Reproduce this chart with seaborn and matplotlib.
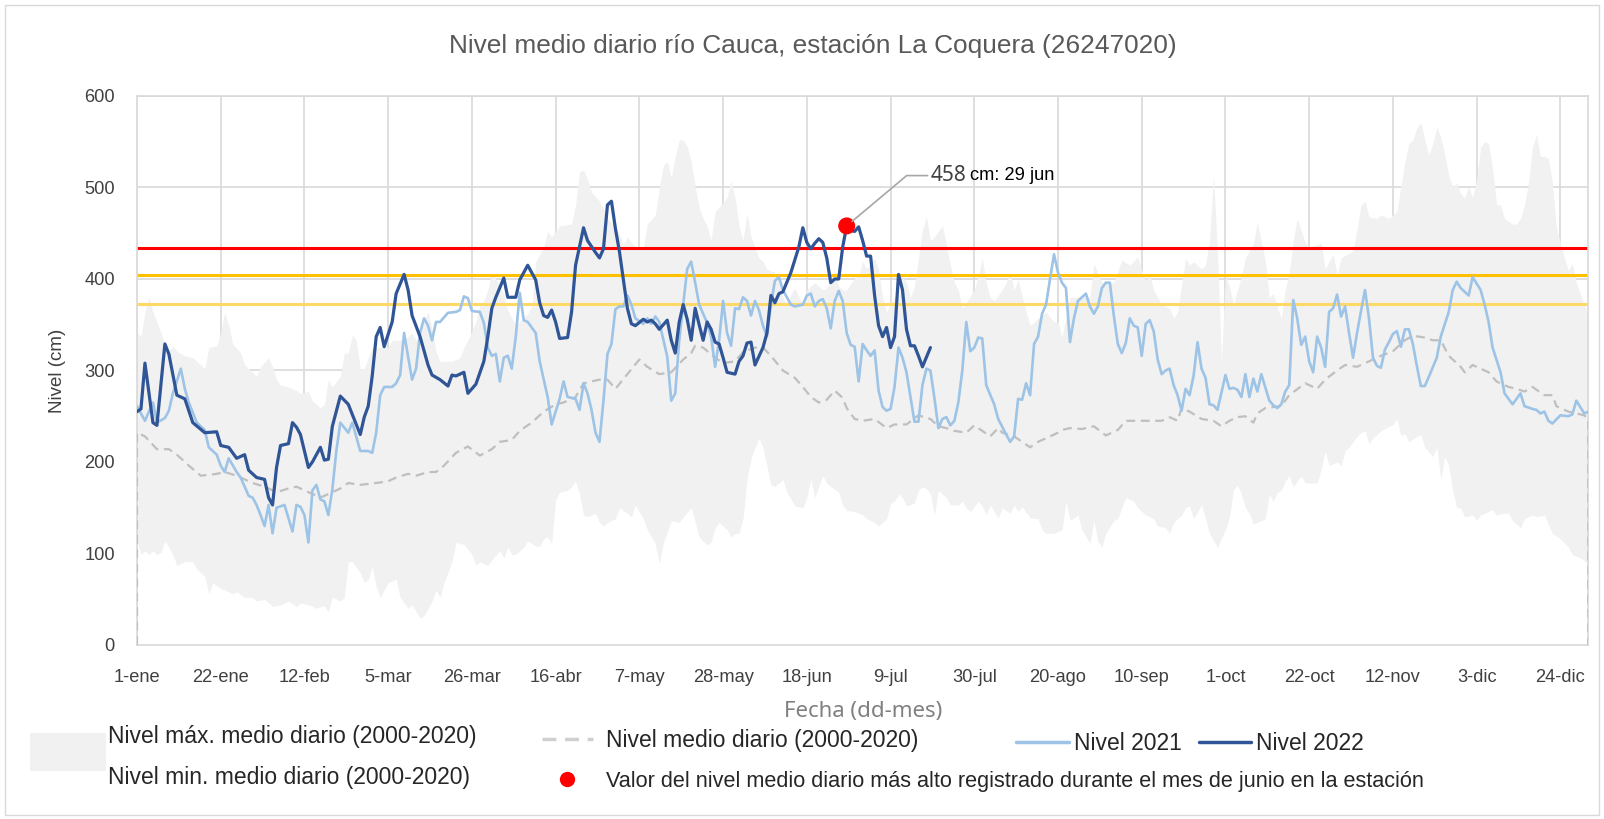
import matplotlib
matplotlib.use("Agg")
import pandas as pd
import matplotlib.pyplot as plt
import seaborn as sns
from matplotlib import font_manager
from matplotlib.legend_handler import HandlerPatch
from matplotlib.lines import Line2D
from matplotlib.patches import Patch, Rectangle

# Datos: (dia del año, nivel en cm)
nivel_max = [(0, 341), (1, 337), (2, 364), (3, 380), (4, 364), (5, 353), (7, 329), (8, 321), (9, 327), (10, 321),
             (12, 316), (14, 314), (16, 306), (17, 302), (18, 325), (20, 327), (21, 341), (22, 364), (23, 349), (24, 329),
             (26, 319), (27, 306), (29, 298), (30, 294), (31, 304), (33, 314), (34, 304), (35, 290), (36, 284), (38, 282),
             (40, 278), (41, 275), (43, 277), (44, 267), (45, 263), (46, 259), (47, 263), (48, 290), (49, 282), (51, 294),
             (52, 319), (53, 319), (54, 339), (55, 333), (56, 302), (57, 302), (58, 314), (59, 325), (62, 325), (63, 325),
             (64, 333), (67, 333), (69, 341), (70, 333), (72, 353), (73, 364), (74, 345), (75, 321), (76, 310), (79, 310),
             (81, 314), (82, 325), (83, 333), (85, 353), (86, 372), (87, 376), (88, 388), (89, 407), (90, 400), (92, 384),
             (93, 366), (95, 349), (97, 358), (98, 362), (99, 370), (100, 419), (102, 435), (103, 452), (104, 446), (105, 452),
             (106, 458), (109, 460), (110, 481), (111, 517), (112, 519), (113, 509), (114, 495), (116, 485), (117, 477), (118, 466),
             (120, 458), (122, 438), (123, 446), (125, 435), (127, 435), (128, 460), (130, 470), (131, 499), (132, 524), (133, 528),
             (134, 511), (135, 534), (136, 552), (137, 552), (138, 545), (139, 528), (140, 501), (141, 478), (142, 466), (143, 458),
             (144, 442), (145, 474), (146, 478), (148, 489), (149, 507), (150, 489), (151, 458), (152, 442), (153, 472), (154, 446),
             (156, 423), (157, 419), (158, 411), (160, 407), (161, 396), (162, 380), (163, 372), (164, 384), (165, 390), (167, 372),
             (168, 388), (170, 396), (172, 388), (173, 390), (175, 409), (176, 392), (177, 388), (178, 388), (180, 401), (181, 403),
             (182, 419), (183, 411), (185, 423), (186, 411), (187, 380), (188, 364), (190, 380), (191, 376), (192, 403), (193, 396),
             (194, 380), (195, 392), (196, 423), (197, 454), (198, 468), (199, 442), (200, 446), (202, 458), (203, 438), (204, 415),
             (205, 396), (206, 388), (207, 368), (208, 374), (210, 388), (211, 403), (212, 423), (213, 396), (214, 380), (215, 376),
             (217, 388), (218, 396), (219, 407), (220, 388), (221, 399), (223, 364), (224, 349), (225, 353), (226, 357), (228, 364),
             (230, 353), (231, 353), (232, 337), (234, 380), (236, 380), (239, 380), (240, 417), (242, 396), (245, 396), (247, 421),
             (249, 415), (251, 424), (252, 409), (253, 398), (254, 405), (255, 388), (257, 372), (259, 368), (260, 357), (261, 364),
             (263, 423), (264, 415), (265, 419), (267, 411), (268, 415), (269, 442), (270, 513), (271, 430), (272, 310), (273, 403),
             (274, 392), (275, 372), (277, 403), (278, 423), (280, 439), (281, 462), (283, 420), (284, 380), (285, 384), (287, 357),
             (288, 388), (289, 407), (290, 442), (291, 466), (293, 440), (294, 435), (297, 439), (298, 411), (300, 427), (301, 405),
             (302, 423), (304, 428), (305, 431), (306, 454), (307, 481), (308, 485), (309, 468), (311, 466), (312, 470), (314, 466),
             (316, 474), (318, 528), (319, 548), (320, 552), (321, 565), (322, 571), (323, 552), (324, 535), (325, 548), (326, 566),
             (327, 555), (328, 536), (329, 513), (330, 501), (331, 505), (332, 493), (333, 489), (334, 501), (335, 489), (336, 509),
             (337, 544), (338, 550), (339, 548), (340, 521), (341, 481), (342, 481), (343, 466), (345, 460), (346, 460), (347, 466),
             (348, 481), (349, 505), (350, 544), (351, 558), (352, 534), (353, 534), (354, 532), (355, 505), (356, 456), (358, 423),
             (359, 409), (360, 417), (361, 396), (362, 384), (363, 372), (364, 360)]

nivel_min = [(0, 114), (1, 99), (2, 103), (3, 99), (4, 103), (5, 99), (6, 101), (7, 114), (9, 99), (10, 87),
             (12, 91), (14, 91), (15, 83), (17, 75), (18, 56), (19, 68), (21, 62), (24, 56), (25, 58), (27, 52),
             (29, 52), (30, 48), (32, 50), (34, 42), (36, 44), (38, 48), (40, 42), (41, 46), (43, 44), (45, 40),
             (47, 43), (48, 36), (49, 52), (51, 48), (52, 52), (53, 91), (54, 91), (56, 79), (57, 68), (58, 72),
             (59, 85), (60, 64), (61, 52), (63, 68), (65, 72), (66, 52), (68, 40), (69, 44), (71, 29), (72, 32),
             (74, 48), (75, 60), (76, 52), (77, 68), (79, 91), (80, 112), (82, 110), (84, 99), (85, 87), (86, 91),
             (88, 87), (89, 93), (91, 103), (92, 95), (93, 107), (94, 99), (95, 99), (97, 107), (98, 114), (100, 108),
             (101, 108), (102, 116), (103, 118), (104, 111), (105, 159), (106, 167), (108, 169), (109, 173), (110, 179), (111, 165),
             (112, 142), (113, 140), (115, 144), (116, 134), (117, 130), (118, 134), (120, 138), (121, 150), (123, 144), (124, 140),
             (125, 153), (127, 138), (128, 126), (130, 111), (131, 89), (132, 111), (134, 136), (136, 134), (137, 140), (139, 150),
             (140, 134), (141, 118), (143, 109), (144, 113), (145, 128), (146, 134), (148, 126), (149, 118), (150, 122), (151, 122),
             (152, 138), (153, 181), (154, 204), (156, 226), (157, 216), (158, 196), (159, 175), (160, 173), (162, 181), (163, 167),
             (165, 152), (167, 150), (168, 161), (169, 181), (170, 161), (172, 185), (173, 177), (174, 173), (176, 167), (177, 153),
             (178, 147), (180, 146), (182, 142), (183, 138), (185, 134), (186, 130), (188, 138), (189, 155), (190, 157), (191, 165),
             (192, 161), (193, 152), (195, 155), (196, 169), (197, 173), (198, 171), (199, 165), (200, 142), (201, 169), (203, 161),
             (204, 153), (206, 153), (207, 157), (208, 150), (209, 146), (211, 157), (212, 152), (213, 142), (214, 153), (216, 139),
             (217, 150), (219, 144), (220, 153), (221, 146), (222, 151), (224, 139), (226, 138), (227, 126), (228, 122), (230, 122),
             (232, 126), (233, 157), (234, 136), (236, 142), (237, 126), (239, 111), (240, 136), (241, 113), (242, 107), (243, 122),
             (245, 136), (246, 138), (247, 150), (248, 161), (250, 157), (251, 150), (253, 142), (255, 138), (256, 130), (258, 128),
             (259, 122), (260, 134), (262, 142), (263, 150), (264, 152), (265, 138), (267, 153), (268, 138), (269, 122), (270, 114),
             (271, 107), (273, 126), (274, 140), (275, 169), (276, 175), (277, 165), (278, 150), (279, 144), (280, 132), (281, 134),
             (283, 138), (284, 165), (285, 157), (286, 167), (287, 169), (288, 179), (289, 185), (290, 173), (292, 185), (293, 177),
             (296, 177), (297, 192), (298, 212), (299, 196), (301, 200), (302, 196), (303, 212), (304, 216), (306, 228), (307, 232),
             (308, 234), (309, 220), (310, 226), (312, 234), (314, 239), (315, 241), (316, 247), (317, 229), (318, 231), (319, 222),
             (321, 228), (322, 230), (323, 216), (325, 206), (326, 216), (327, 181), (328, 206), (329, 196), (330, 169), (331, 150),
             (332, 150), (333, 140), (335, 142), (336, 136), (337, 142), (340, 148), (341, 142), (343, 144), (344, 144), (345, 136),
             (347, 128), (348, 138), (350, 142), (351, 140), (353, 142), (354, 132), (355, 122), (357, 116), (359, 107), (360, 99),
             (362, 95), (364, 89)]

nivel_medio = [(0, 0), (0, 232), (2, 228), (5, 214), (8, 214), (10, 208), (13, 196), (16, 185), (20, 187), (22, 189),
               (25, 185), (29, 177), (32, 173), (35, 167), (38, 171), (40, 173), (43, 167), (46, 161), (48, 165), (51, 171),
               (53, 177), (56, 175), (60, 177), (63, 179), (65, 183), (68, 187), (70, 185), (73, 189), (75, 189), (77, 196),
               (80, 210), (83, 217), (86, 207), (89, 214), (91, 222), (94, 224), (96, 234), (99, 243), (102, 255), (105, 263),
               (107, 265), (110, 271), (112, 286), (116, 290), (118, 290), (120, 280), (123, 296), (126, 312), (128, 304), (131, 296),
               (134, 298), (137, 312), (139, 319), (140, 327), (142, 325), (145, 314), (147, 308), (150, 310), (152, 320), (155, 325),
               (157, 325), (159, 316), (162, 300), (165, 292), (167, 282), (169, 271), (171, 265), (173, 268), (175, 278), (177, 270),
               (178, 259), (180, 247), (182, 245), (185, 247), (188, 237), (190, 241), (193, 241), (196, 251), (199, 247), (201, 239),
               (203, 237), (205, 234), (208, 232), (210, 240), (212, 234), (214, 228), (216, 237), (217, 232), (220, 228), (222, 222),
               (224, 216), (226, 222), (228, 226), (231, 232), (232, 235), (234, 237), (237, 236), (240, 239), (243, 229), (246, 235),
               (248, 245), (251, 245), (254, 245), (257, 245), (259, 249), (261, 245), (262, 259), (264, 255), (267, 247), (270, 245),
               (272, 239), (274, 245), (276, 249), (278, 250), (280, 243), (281, 253), (283, 259), (285, 260), (287, 261), (289, 273),
               (293, 286), (296, 280), (298, 290), (301, 300), (303, 306), (306, 304), (309, 310), (312, 316), (315, 321), (318, 333),
               (320, 338), (323, 336), (325, 333), (327, 333), (329, 316), (332, 304), (333, 298), (335, 306), (336, 304), (339, 298),
               (341, 288), (344, 282), (346, 280), (348, 277), (350, 282), (353, 273), (355, 273), (356, 261), (359, 255), (361, 253),
               (363, 251), (364, 247), (364, 0)]

nivel_2021 = [(0, 261), (1, 253), (2, 245), (4, 265), (5, 243), (7, 248), (8, 256), (9, 275), (11, 302), (12, 280),
              (13, 265), (15, 243), (17, 235), (18, 216), (20, 208), (21, 196), (22, 189), (23, 204), (25, 189), (26, 183),
              (28, 163), (29, 161), (30, 153), (31, 142), (32, 130), (33, 153), (34, 122), (35, 150), (37, 153), (39, 124),
              (40, 153), (41, 151), (42, 142), (43, 112), (44, 169), (45, 175), (46, 159), (47, 157), (48, 142), (49, 170),
              (50, 212), (51, 243), (53, 232), (54, 243), (56, 212), (58, 212), (59, 210), (60, 232), (61, 273), (62, 282),
              (64, 282), (65, 286), (66, 295), (67, 341), (68, 315), (69, 290), (70, 302), (71, 341), (72, 357), (73, 349),
              (74, 333), (75, 353), (76, 353), (78, 363), (80, 364), (81, 366), (82, 381), (83, 379), (84, 365), (86, 364),
              (87, 352), (88, 325), (89, 316), (90, 318), (91, 288), (92, 314), (93, 316), (94, 302), (95, 337), (96, 385),
              (97, 355), (98, 353), (99, 347), (100, 341), (101, 310), (103, 271), (104, 241), (106, 269), (107, 288), (108, 271),
              (110, 269), (111, 257), (112, 286), (113, 275), (114, 257), (115, 232), (116, 222), (117, 267), (118, 318), (119, 329),
              (120, 367), (121, 370), (122, 370), (123, 382), (124, 372), (125, 357), (127, 351), (128, 357), (129, 351), (130, 359),
              (131, 353), (133, 315), (134, 267), (135, 275), (136, 333), (138, 411), (139, 419), (140, 396), (141, 372), (142, 362),
              (143, 352), (144, 337), (145, 304), (146, 333), (147, 376), (148, 341), (149, 327), (150, 368), (151, 367), (152, 380),
              (153, 376), (154, 360), (155, 376), (156, 366), (157, 349), (158, 337), (159, 372), (160, 398), (161, 402), (162, 388),
              (163, 380), (164, 372), (165, 370), (167, 372), (168, 382), (169, 384), (170, 370), (171, 376), (172, 378), (173, 368),
              (174, 346), (175, 376), (176, 387), (177, 376), (178, 341), (179, 328), (180, 326), (181, 288), (182, 329), (183, 322),
              (184, 316), (185, 322), (186, 278), (187, 260), (188, 256), (189, 258), (190, 282), (191, 325), (192, 314), (193, 298),
              (194, 271), (195, 244), (196, 244), (197, 284), (198, 302), (199, 300), (200, 270), (201, 237), (202, 247), (203, 249),
              (204, 240), (205, 245), (206, 265), (207, 300), (208, 353), (209, 321), (210, 325), (211, 336), (212, 335), (213, 284),
              (215, 263), (216, 247), (218, 230), (219, 222), (220, 228), (221, 269), (222, 268), (223, 286), (224, 273), (225, 329),
              (226, 337), (227, 362), (228, 372), (229, 400), (230, 427), (231, 407), (232, 396), (233, 390), (234, 331), (235, 357),
              (236, 376), (238, 384), (239, 370), (240, 362), (241, 370), (242, 390), (243, 396), (244, 396), (245, 360), (246, 329),
              (247, 319), (248, 330), (249, 357), (250, 349), (251, 347), (252, 316), (253, 351), (254, 355), (255, 343), (256, 312),
              (257, 296), (258, 300), (259, 302), (260, 284), (261, 273), (262, 256), (263, 280), (264, 273), (265, 294), (266, 331),
              (267, 302), (268, 292), (269, 263), (270, 262), (271, 257), (272, 276), (273, 295), (274, 280), (275, 281), (276, 279),
              (277, 271), (278, 296), (279, 271), (280, 291), (281, 277), (282, 296), (284, 267), (285, 262), (286, 259), (287, 263),
              (288, 277), (289, 284), (290, 377), (291, 357), (292, 328), (293, 337), (294, 310), (295, 298), (296, 337), (297, 325),
              (298, 304), (299, 364), (300, 368), (301, 383), (302, 359), (303, 370), (304, 341), (305, 314), (306, 341), (307, 365),
              (308, 388), (309, 357), (310, 314), (311, 305), (312, 303), (313, 323), (314, 331), (315, 340), (316, 343), (317, 326),
              (318, 345), (319, 345), (320, 329), (321, 305), (322, 283), (323, 283), (324, 293), (326, 314), (327, 337), (329, 364),
              (330, 388), (331, 397), (332, 390), (334, 382), (335, 402), (337, 388), (338, 372), (339, 353), (340, 325), (342, 298),
              (343, 275), (344, 269), (345, 263), (347, 275), (348, 261), (350, 258), (351, 257), (352, 253), (353, 255), (354, 245),
              (355, 242), (357, 251), (359, 250), (360, 252), (361, 267), (363, 253), (364, 255)]

nivel_2022 = [(0, 255), (1, 258), (2, 308), (4, 243), (5, 240), (7, 329), (8, 318), (10, 273), (12, 269), (14, 243),
              (17, 232), (20, 233), (21, 218), (23, 216), (25, 204), (27, 208), (28, 191), (30, 183), (32, 181), (33, 161),
              (34, 153), (35, 194), (36, 218), (38, 220), (39, 243), (40, 238), (41, 230), (43, 194), (44, 200), (46, 216),
              (47, 202), (48, 203), (49, 239), (51, 272), (53, 263), (56, 230), (57, 249), (58, 261), (59, 294), (60, 337),
              (61, 347), (62, 326), (64, 353), (65, 384), (67, 405), (68, 388), (69, 360), (71, 337), (73, 306), (74, 295),
              (76, 290), (78, 283), (79, 295), (80, 294), (82, 298), (83, 275), (85, 285), (87, 310), (88, 337), (89, 368),
              (90, 380), (92, 401), (93, 380), (95, 380), (96, 399), (98, 415), (100, 399), (101, 374), (102, 360), (103, 358),
              (104, 366), (105, 353), (106, 335), (108, 336), (109, 364), (110, 415), (112, 456), (113, 442), (115, 429), (116, 423),
              (117, 433), (118, 481), (119, 485), (120, 455), (121, 430), (122, 399), (123, 368), (124, 351), (125, 349), (127, 356),
              (128, 353), (129, 355), (130, 351), (131, 345), (133, 355), (134, 333), (135, 319), (136, 353), (137, 372), (138, 356),
              (139, 333), (140, 368), (141, 350), (142, 333), (143, 353), (144, 345), (145, 331), (146, 329), (147, 314), (148, 298),
              (150, 296), (151, 310), (152, 316), (153, 330), (154, 331), (155, 306), (157, 325), (158, 341), (159, 382), (160, 374),
              (161, 384), (162, 386), (164, 407), (166, 435), (167, 456), (168, 440), (169, 433), (170, 439), (171, 444), (172, 440),
              (173, 423), (174, 396), (175, 400), (176, 400), (177, 435), (178, 458), (179, 453), (180, 452), (181, 457), (182, 442),
              (183, 425), (184, 425), (185, 382), (186, 349), (187, 337), (188, 347), (189, 325), (190, 337), (191, 405), (192, 388),
              (193, 345), (194, 327), (195, 327), (196, 316), (197, 304), (199, 325)]

umbral_rojo = 434
umbral_naranja = 404
umbral_amarillo = 373

dias_junio = (151, 180)
etiquetas_x = ['1-ene', '22-ene', '12-feb', '5-mar', '26-mar', '16-abr', '7-may', '28-may', '18-jun',
               '9-jul', '30-jul', '20-ago', '10-sep', '1-oct', '22-oct', '12-nov', '3-dic', '24-dic']

df_max = pd.DataFrame(nivel_max, columns=['dia', 'nivel'])
df_min = pd.DataFrame(nivel_min, columns=['dia', 'nivel'])
df_medio = pd.DataFrame(nivel_medio, columns=['dia', 'nivel'])
df_2021 = pd.DataFrame(nivel_2021, columns=['dia', 'nivel'])
df_2022 = pd.DataFrame(nivel_2022, columns=['dia', 'nivel'])

# Valor maximo de junio 2022
junio = df_2022[(df_2022['dia'] >= dias_junio[0]) & (df_2022['dia'] <= dias_junio[1])]
pico = junio.loc[junio['nivel'].idxmax()]

sns.set_theme(style="white")
plt.rcParams['font.family'] = ['Liberation Sans', 'DejaVu Sans']

# fuente estrecha (tipo Arial Narrow) si esta instalada
familias = {f.name for f in font_manager.fontManager.ttflist}
if 'Liberation Sans Narrow' in familias:
    estrecha, k = ['Liberation Sans Narrow', 'DejaVu Sans'], 1.0
else:
    estrecha, k = ['Liberation Sans', 'DejaVu Sans'], 0.82

fig = plt.figure(figsize=(16.04, 8.19), dpi=100)
ax = fig.add_axes([0.0854, 0.2125, 0.9048, 0.6703])

gris_claro = '#d9d9d9'
ax.fill_between(df_max['dia'], 0, df_max['nivel'], color='#f1f1f1', lw=0, zorder=1)
ax.fill_between(df_min['dia'], 0, df_min['nivel'], color='white', lw=0, zorder=1.1)

ax.axhline(umbral_rojo, color='#ff0000', lw=2.2, zorder=2)
ax.axhline(umbral_naranja, color='#ffc000', lw=2.2, zorder=2)
ax.axhline(umbral_amarillo, color='#ffd966', lw=2.2, zorder=2)

sns.lineplot(data=df_medio, x='dia', y='nivel', ax=ax, color='#bfbfbf', lw=1.6,
             linestyle=(0, (4, 2.5)), estimator=None, sort=False, zorder=3)
sns.lineplot(data=df_2021, x='dia', y='nivel', ax=ax, color='#9dc3e6', lw=1.9,
             estimator=None, sort=False, zorder=4)
sns.lineplot(data=df_2022, x='dia', y='nivel', ax=ax, color='#2f5597', lw=2.3,
             estimator=None, sort=False, zorder=5)
sns.scatterplot(x=[pico['dia']], y=[pico['nivel']], ax=ax, color='#ff0000', s=150,
                edgecolor='none', zorder=6)

# etiqueta del pico con linea guia
ax.annotate('', xy=(pico['dia'], pico['nivel']), xytext=(198.3, 513),
            arrowprops=dict(arrowstyle='-', color='#a6a6a6', lw=1.2, shrinkA=0, shrinkB=5,
                            connectionstyle='angle,angleA=0,angleB=40,rad=0'), zorder=7)
t1 = ax.text(199, 513, f"{int(pico['nivel'])}", ha='left', va='center', fontsize=15,
             color='#404040', family=['Noto Sans', 'DejaVu Sans'], zorder=7)
ax.annotate('cm: 29 jun', xy=(1, 0.5), xycoords=t1, xytext=(3, 0), textcoords='offset points',
            ha='left', va='center', fontsize=16 * k, color='black', family=estrecha, zorder=7)

ax.set_xlim(0, 364)
ax.set_ylim(0, 600)
ax.set_xticks(range(0, 358, 21))
ax.set_xticklabels(etiquetas_x, family=estrecha)
ax.set_yticks(range(0, 601, 100))
ax.set_yticklabels([str(v) for v in range(0, 601, 100)], family=estrecha)
ax.set_axisbelow(True)
ax.grid(True, color=gris_claro, lw=1.2)
for sp in ax.spines.values():
    sp.set_color(gris_claro)
    sp.set_linewidth(1.2)
ax.tick_params(axis='x', length=5, width=1.2, color=gris_claro, pad=12, labelsize=16 * k, labelcolor='#404040')
ax.tick_params(axis='y', length=0, pad=16, labelsize=16 * k, labelcolor='#404040')
ax.set_ylabel('Nivel (cm)', fontsize=16.5 * k, color='#404040', labelpad=13, family=estrecha)
ax.set_xlabel('Fecha (dd-mes)', fontsize=16, color='#808080', labelpad=11, family=['Noto Sans', 'DejaVu Sans'])

fig.text(0.507, 0.944, 'Nivel medio diario río Cauca, estación La Coquera (26247020)',
         ha='center', va='center', fontsize=23 * k, color='#595959', family=estrecha)


# parche de la leyenda algo desplazado hacia arriba, como en el original
def parche_banda(legend, orig_handle, xdescent, ydescent, width, height, fontsize):
    return Rectangle((-xdescent, -ydescent + 0.3 * fontsize), width, height)


# Leyendas
fs_ley = 16.5
leg1 = fig.legend([Patch(facecolor='#f1f1f1', edgecolor='none')],
                  ['Nivel máx. medio diario (2000-2020)\nNivel min. medio diario (2000-2020)'],
                  loc='center left', bbox_to_anchor=(0.019, 0.076), frameon=False, fontsize=fs_ley,
                  handlelength=3.3, handleheight=2.18, handletextpad=0.08, borderpad=0, borderaxespad=0,
                  handler_map={Patch: HandlerPatch(patch_func=parche_banda)})
leg1.get_texts()[0].set_linespacing(2.0)

leg2 = fig.legend([Line2D([], [], color='#d0d0d0', lw=2.5, linestyle=(0, (4, 2.5))),
                   Line2D([], [], marker='o', color='#ff0000', linestyle='none', markersize=10)],
                  ['Nivel medio diario (2000-2020)',
                   'Valor del nivel medio diario más alto registrado durante el mes de junio en la estación'],
                  loc='center left', bbox_to_anchor=(0.338, 0.0713), frameon=False, fontsize=fs_ley,
                  handlelength=2.2, handletextpad=0.6, labelspacing=0.8, borderpad=0, borderaxespad=0)
leg2.get_texts()[1].set_fontsize(15.6)

leg3 = fig.legend([Line2D([], [], color='#9dc3e6', lw=2.5), Line2D([], [], color='#2f5597', lw=2.5)],
                  ['Nivel 2021', 'Nivel 2022'], ncol=2,
                  loc='center left', bbox_to_anchor=(0.6334, 0.0916), frameon=False, fontsize=fs_ley,
                  handlelength=2.3, handletextpad=0.22, columnspacing=0.74, borderpad=0, borderaxespad=0)

fig.patches.append(Rectangle((0.003, 0.005), 0.994, 0.989, transform=fig.transFigure,
                             fill=False, edgecolor=gris_claro, lw=1))

fig.savefig('out.png', dpi=100)
